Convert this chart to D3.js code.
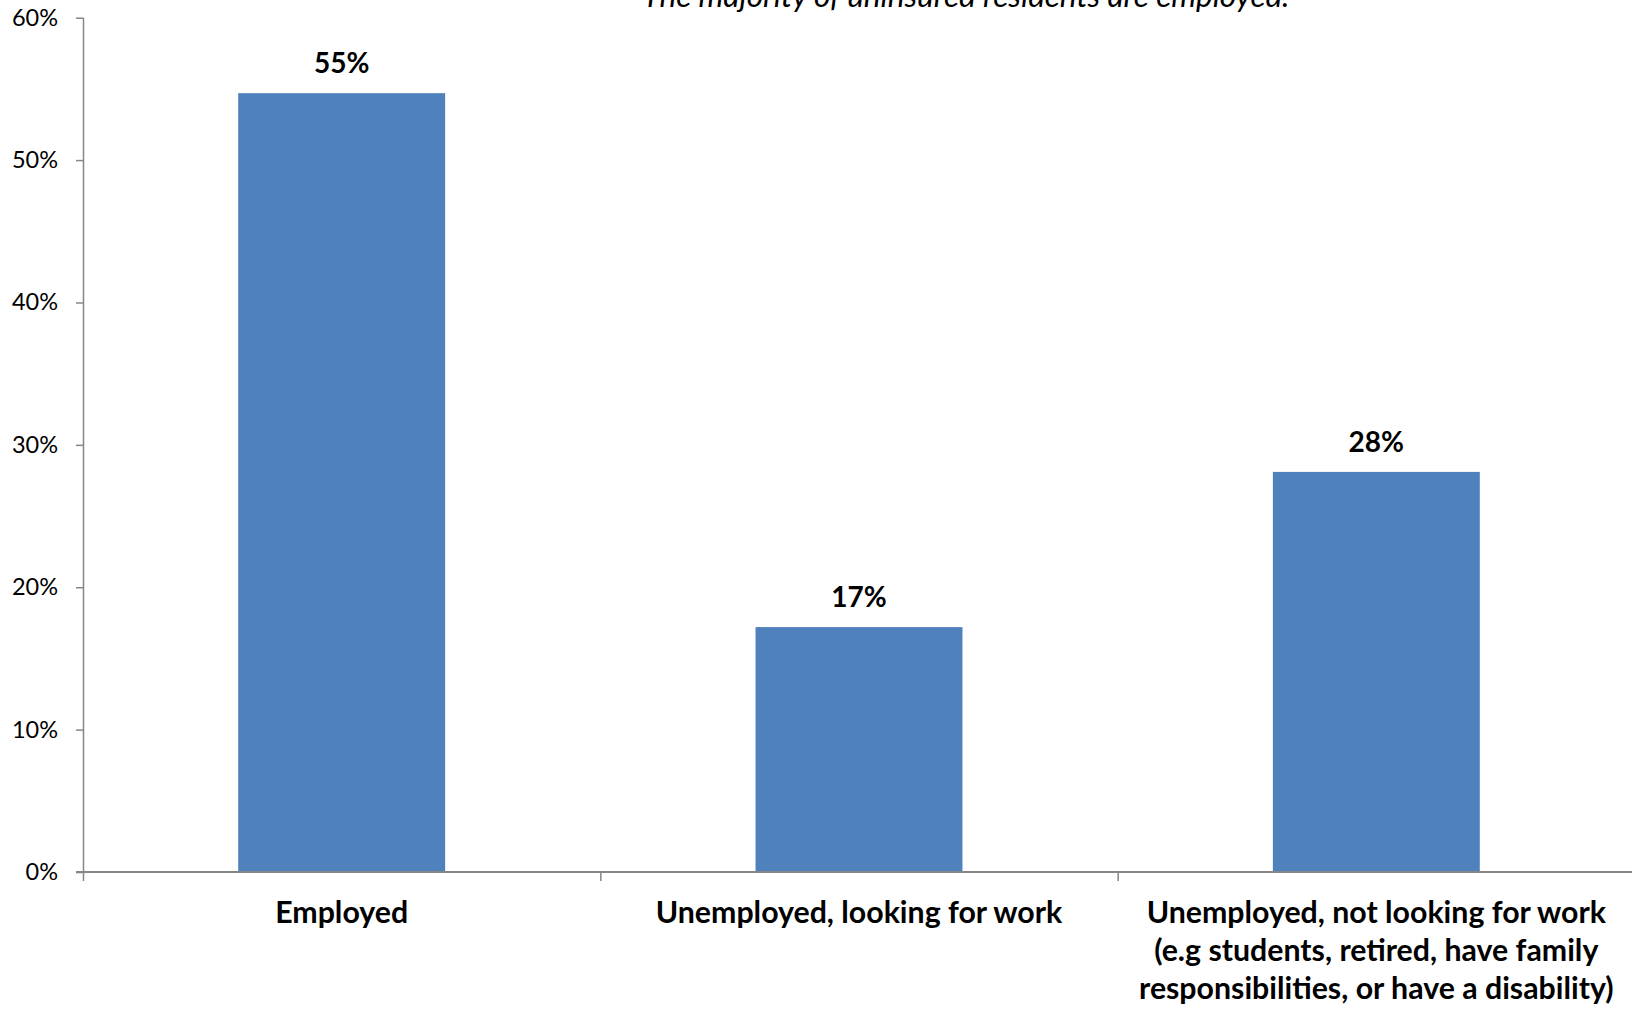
<!DOCTYPE html>
<html>
<head>
<meta charset="utf-8">
<script src="https://cdn.jsdelivr.net/npm/d3@7/dist/d3.min.js"></script>
<style>
  html, body { margin: 0; padding: 0; background: #fff; }
  svg { display: block; }
  text { font-family: Lato, "Open Sans", "DejaVu Sans", sans-serif; fill: #000; }
</style>
</head>
<body>
<svg id="chart" width="1632" height="1009"></svg>
<script>
// ---- data ----
const categories = [
  ["Employed"],
  ["Unemployed, looking for work"],
  ["Unemployed, not looking for work", "(e.g students, retired, have family", "responsibilities, or have a disability)"]
];
const values = [0.547, 0.172, 0.281];
const valueLabels = ["55%", "17%", "28%"];
const yTicks = [0, 0.1, 0.2, 0.3, 0.4, 0.5, 0.6];
const yTickLabels = ["0%", "10%", "20%", "30%", "40%", "50%", "60%"];
const title = "The majority of uninsured residents are employed.";

// ---- layout ----
const W = 1632, H = 1009;
const mLeft = 83, mRight = 1635, mTop = 17.7, mBottom = 872;
const svg = d3.select("#chart");
const axisColor = "#868686";
const barColor = "#4F81BD";

const keys = categories.map((c, i) => i);
const x = d3.scaleBand().domain(keys).range([mLeft, mRight]).paddingInner(0).paddingOuter(0);
const y = d3.scaleLinear().domain([0, 0.6]).range([mBottom, mTop]);
const barFrac = 0.4;

// bars
svg.append("g").selectAll("rect").data(values).join("rect")
  .attr("x", (d, i) => x(i) + x.bandwidth() * (1 - barFrac) / 2)
  .attr("width", x.bandwidth() * barFrac)
  .attr("y", d => y(d))
  .attr("height", d => y(0) - y(d))
  .attr("fill", barColor);

// y axis
const yAxis = d3.axisLeft(y).tickValues(yTicks).tickFormat((d, i) => yTickLabels[i]).tickSize(7).tickPadding(18);
const gy = svg.append("g").attr("transform", `translate(${mLeft},0)`).call(yAxis);
gy.select(".domain").attr("stroke", axisColor).attr("stroke-width", 1.5).attr("d", `M0.5,${mTop}V${mBottom}`);
gy.selectAll(".tick line").attr("stroke", axisColor).attr("stroke-width", 1.5);
gy.selectAll(".tick text").style("font-size", "23.5px").style("font-family", "Lato, sans-serif").attr("fill", "#000");

// x axis line + ticks at band boundaries
const gx = svg.append("g");
gx.append("line").attr("x1", mLeft - 7).attr("x2", W).attr("y1", mBottom).attr("y2", mBottom)
  .attr("stroke", axisColor).attr("stroke-width", 2);
const boundaries = keys.map(k => x(k));
gx.selectAll("line.tk").data(boundaries).join("line").attr("class", "tk")
  .attr("x1", d => d + 0.5).attr("x2", d => d + 0.5).attr("y1", mBottom).attr("y2", mBottom + 9)
  .attr("stroke", axisColor).attr("stroke-width", 1.5);

// category labels
const catG = svg.append("g");
categories.forEach((lines, i) => {
  const t = catG.append("text").attr("text-anchor", "middle")
    .attr("x", x(i) + x.bandwidth() / 2)
    .style("font-weight", "bold").style("font-size", "30.3px");
  lines.forEach((ln, j) => {
    t.append("tspan").attr("x", x(i) + x.bandwidth() / 2).attr("y", 923 + j * 38).text(ln);
  });
});

// value labels
svg.append("g").selectAll("text").data(values).join("text")
  .attr("text-anchor", "middle")
  .attr("x", (d, i) => x(i) + x.bandwidth() / 2)
  .attr("y", d => y(d) - 20)
  .style("font-weight", "bold").style("font-size", "28px")
  .text((d, i) => valueLabels[i]);

// title
svg.append("text").attr("x", 966).attr("y", 7).attr("text-anchor", "middle")
  .style("font-style", "italic").style("font-size", "31.5px").text(title);
</script>
</body>
</html>
